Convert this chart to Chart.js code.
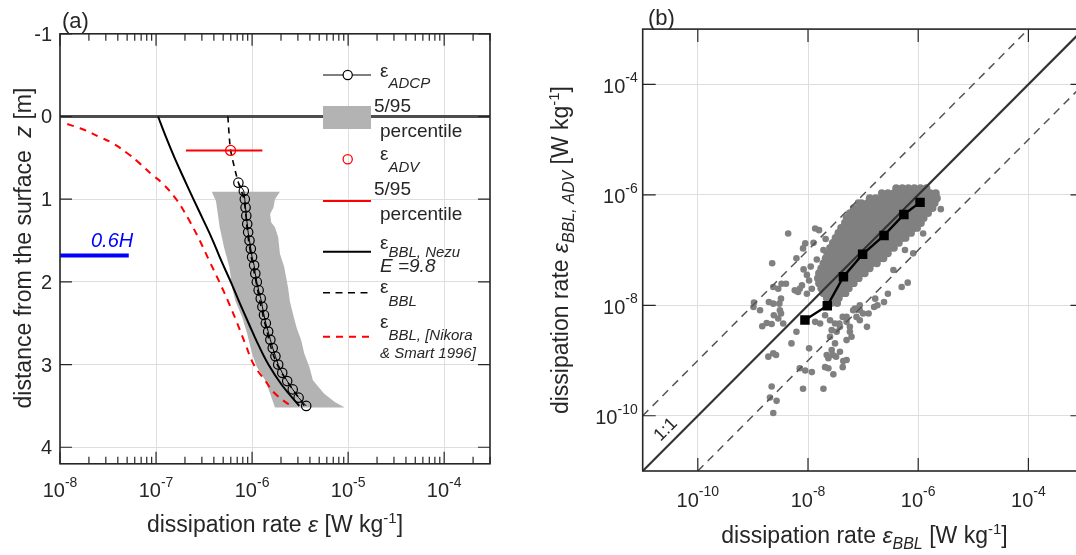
<!DOCTYPE html>
<html><head><meta charset="utf-8">
<script src="https://cdn.jsdelivr.net/npm/chart.js@4.4.0/dist/chart.umd.min.js"></script>
<style>
html,body{margin:0;padding:0;background:#fff;overflow:hidden;width:1076px;height:555px}
#ca{position:absolute;left:0;top:0}
#cb{position:absolute;left:540px;top:0}
</style></head><body>
<canvas id="ca" width="540" height="555"></canvas>
<canvas id="cb" width="560" height="555"></canvas>
<script>
// ---------------- Panel (a) data ----------------
const xTickExpA = [-8, -7, -6, -5, -4];
const yTicksA = [-1, 0, 1, 2, 3, 4];
const xMinA = 1e-8, xMaxA = 3e-4, zMinA = -1, zMaxA = 4.2;

const adcpZ = [0.8,0.9,1.0,1.1,1.2,1.3,1.4,1.5,1.6,1.7,1.8,1.9,2.0,2.1,2.2,2.3,2.4,2.5,2.6,2.7,2.8,2.9,3.0,3.1,3.2,3.3,3.4,3.5];
const adcpEps = [7.2e-7,8.2e-7,8.4e-7,8.55e-7,8.7e-7,8.9e-7,9.1e-7,9.4e-7,9.7e-7,1.0e-6,1.05e-6,1.08e-6,1.12e-6,1.17e-6,1.23e-6,1.28e-6,1.33e-6,1.39e-6,1.47e-6,1.55e-6,1.64e-6,1.75e-6,1.87e-6,2.06e-6,2.32e-6,2.65e-6,3.05e-6,3.66e-6];

const bandLeftZ = [0.91,1.02,1.18,1.34,1.58,1.82,2.07,2.23,2.43,2.63,2.87,3.03,3.19,3.35,3.52];
const bandLeftEps = [3.8e-7,4.2e-7,4.4e-7,4.6e-7,5.1e-7,5.8e-7,6.2e-7,6.7e-7,7.9e-7,8.9e-7,1.0e-6,1.12e-6,1.37e-6,1.54e-6,1.73e-6];
const bandRightZ = [3.52,3.45,3.35,3.19,3.03,2.87,2.71,2.55,2.39,2.23,2.07,1.82,1.66,1.46,1.34,1.28,1.18,1.10,1.0,0.91];
const bandRightEps = [9.2e-6,7.2e-6,5.6e-6,4.3e-6,3.95e-6,3.5e-6,3.25e-6,2.9e-6,2.67e-6,2.47e-6,2.37e-6,2.16e-6,1.95e-6,1.87e-6,1.73e-6,1.58e-6,1.54e-6,1.67e-6,1.73e-6,1.95e-6];

const advZ = [0.41];
const advEps = [5.97e-7];
const advLo = [2.05e-7];
const advHi = [1.28e-6];

const nezuZ = [0,0.25,0.5,0.75,1.0,1.25,1.5,1.75,2.0,2.25,2.5,2.75,3.0,3.25,3.5];
const nezuEps = [1.05e-7,1.27e-7,1.56e-7,1.95e-7,2.45e-7,3.1e-7,3.9e-7,4.8e-7,6.0e-7,7.4e-7,9.2e-7,1.15e-6,1.48e-6,2.05e-6,3.1e-6];

const bblZ = [0,0.2,0.4,0.6,0.8,1.0,1.5,2.0,2.5,3.0,3.5];
const bblEps = [5.6e-7,5.75e-7,5.97e-7,6.5e-7,7.2e-7,8.2e-7,9.2e-7,1.1e-6,1.36e-6,1.83e-6,3.5e-6];

const nikoraZ = [0.09,0.13,0.17,0.25,0.32,0.45,0.57,0.7,0.81,1.0,1.25,1.5,1.75,2.0,2.25,2.5,2.75,3.0,3.2,3.35,3.52];
const nikoraEps = [1.19e-8,1.5e-8,1.87e-8,2.6e-8,3.5e-8,5.1e-8,6.8e-8,9.0e-8,1.17e-7,1.62e-7,2.2e-7,2.85e-7,3.6e-7,4.56e-7,5.7e-7,7.0e-7,8.5e-7,1.04e-6,1.38e-6,1.73e-6,2.67e-6];

const surfaceZ = 0;
const depthMarkZ = 1.68;           // 0.6H above the bed
const depthMarkEps = [1e-8, 5.2e-8];

// ---------------- Panel (b) data ----------------
const tickExpB = [-10, -8, -6, -4];
const minB = 1e-11, maxB = 1e-3;
const binBBL = [8.8e-9,2.24e-8,4.4e-8,9.8e-8,2.4e-7,5.5e-7,1.08e-6];
const binADV = [5.4e-9,9.8e-9,3.3e-8,8.4e-8,1.84e-7,4.4e-7,7.3e-7];

// dense cloud, log10 values read row by row
const cloudADVrows = [-5.88,-5.97,-6.06,-6.15,-6.24,-6.33,-6.42,-6.51,-6.60,-6.69,-6.78,-6.87,-6.96,-7.06,-7.15,-7.24,-7.33,-7.42,-7.51,-7.60,-7.69,-7.78,-7.87,-7.96];
const cloudBBLrows = [
 [-6.40,-6.29,-6.18,-6.07,-5.96,-5.85],
 [-6.66,-6.55,-6.44,-6.33,-6.22,-6.11,-6.00,-5.89,-5.78,-5.68],
 [-6.88,-6.77,-6.66,-6.55,-6.44,-6.33,-6.22,-6.11,-6.00,-5.89,-5.78,-5.66],
 [-7.03,-6.92,-6.81,-6.70,-6.59,-6.48,-6.37,-6.26,-6.15,-6.04,-5.93,-5.82,-5.70],
 [-7.17,-7.06,-6.95,-6.84,-6.73,-6.62,-6.51,-6.40,-6.29,-6.18,-6.07,-5.96,-5.85,-5.74],
 [-7.24,-7.13,-7.02,-6.91,-6.80,-6.69,-6.58,-6.47,-6.36,-6.25,-6.14,-6.03,-5.92,-5.82],
 [-7.30,-7.19,-7.08,-6.97,-6.86,-6.75,-6.64,-6.53,-6.42,-6.31,-6.20,-6.09,-5.98,-5.90],
 [-7.33,-7.22,-7.11,-7.00,-6.89,-6.78,-6.67,-6.56,-6.45,-6.34,-6.23,-6.12,-6.01,-5.95],
 [-7.40,-7.29,-7.18,-7.07,-6.96,-6.85,-6.74,-6.63,-6.52,-6.41,-6.30,-6.19,-6.08,-6.02],
 [-7.45,-7.34,-7.23,-7.12,-7.01,-6.90,-6.79,-6.68,-6.57,-6.46,-6.35,-6.24,-6.13],
 [-7.50,-7.39,-7.28,-7.17,-7.06,-6.95,-6.84,-6.73,-6.62,-6.51,-6.40,-6.29,-6.23],
 [-7.55,-7.44,-7.33,-7.22,-7.11,-7.00,-6.89,-6.78,-6.67,-6.56,-6.45,-6.35],
 [-7.60,-7.49,-7.38,-7.27,-7.16,-7.05,-6.94,-6.83,-6.72,-6.61,-6.50,-6.44],
 [-7.65,-7.54,-7.43,-7.32,-7.21,-7.10,-6.99,-6.88,-6.77,-6.66,-6.55],
 [-7.68,-7.57,-7.46,-7.35,-7.24,-7.13,-7.02,-6.91,-6.80,-6.69,-6.63],
 [-7.72,-7.61,-7.50,-7.39,-7.28,-7.17,-7.06,-6.95,-6.84,-6.75],
 [-7.76,-7.65,-7.54,-7.43,-7.32,-7.21,-7.10,-6.99,-6.88],
 [-7.80,-7.69,-7.58,-7.47,-7.36,-7.25,-7.14,-7.03,-6.97],
 [-7.82,-7.71,-7.60,-7.49,-7.38,-7.27,-7.16,-7.08],
 [-7.80,-7.69,-7.58,-7.47,-7.36,-7.25,-7.17],
 [-7.76,-7.65,-7.54,-7.43,-7.32,-7.26],
 [-7.72,-7.61,-7.50,-7.39,-7.32],
 [-7.66,-7.55,-7.44],
 [-7.58,-7.47]
];
// scattered points, log10 values
const outBBL = [-8.36,-8.65,-7.87,-7.80,-8.05,-8.09,-7.90,-8.21,-7.84,-7.09,-6.78,-8.63,-8.54,-8.48,-8.40,-8.24,-8.15,-8.11,-8.18,-8.02,-7.93,-8.99,-8.87,-8.98,-8.71,-8.63,-8.51,-8.62,-8.49,-8.52,-8.49,-8.75,-8.66,-8.83,-8.54,-8.45,
 -5.59,-5.91,-6.24,-6.09,-6.30,-6.45,-6.19,-6.55,-6.62,-6.74,-6.78,-6.80,-6.90,-6.93,-7.06,-7.12,-7.15,-7.00,-7.06,-7.18,-7.30,-7.42,-7.30,-7.24,-7.06,-7.21,-7.24,-7.37,-7.43,-7.57,-7.48,-7.60,-7.51,-7.87,-7.78,-7.69,
 -7.93,-7.36,-7.30,-7.51,-7.60,-7.66,-7.63,-7.55,-7.49,-7.69,-7.63,-7.54,-7.37,-7.72,-8.09,-7.98,-8.15,-8.05,-8.30,-8.21,-8.63,-8.72,-8.58,-8.66,-8.69,-8.57,-8.63,-7.57,-7.42,-7.30,
 -7.95,-8.02,-7.98,-8.08,-7.72,-7.68];
const outADV = [-6.70,-7.24,-6.61,-6.64,-6.88,-6.97,-6.87,-7.15,-7.17,-6.14,-6.07,-7.67,-7.70,-7.61,-7.61,-7.73,-7.70,-7.64,-7.76,-7.79,-7.70,-8.03,-8.09,-7.95,-7.94,-7.97,-8.09,-8.18,-8.15,-7.97,-7.88,-8.32,-8.34,-8.38,-8.24,-8.33,
 -6.26,-6.70,-7.00,-7.06,-7.67,-7.36,-7.59,-7.79,-7.94,-8.00,-7.88,-8.03,-8.15,-8.39,-8.09,-8.21,-8.06,-8.15,-8.00,-8.09,-8.21,-8.39,-8.30,-8.39,-8.27,-8.57,-8.48,-8.21,-8.33,-8.45,-8.48,-8.27,-8.33,-8.30,-8.33,-8.18,
 -9.21,-9.01,-8.63,-8.69,-8.57,-8.90,-8.96,-8.90,-8.93,-9.12,-9.14,-9.25,-9.12,-9.51,-9.51,-8.78,-9.14,-9.18,-8.69,-8.48,-8.87,-8.93,-8.90,-9.47,-9.67,-9.73,-9.95,-8.81,-8.84,-8.99,
 -7.30,-7.45,-7.55,-7.35,-7.00,-6.80];

// ---------------- helpers ----------------
const TXT = '#262626', AXIS = '#262626', GRID = '#dedede';
const F = (s, it) => (it ? 'italic ' : '') + s + 'px "Liberation Sans", Arial, Helvetica, sans-serif';
const pts = (xs, ys) => xs.map((x, i) => ({x: x, y: ys[i]}));

function rich(ctx, x, y, parts, align) {
  let w = 0;
  for (const p of parts) { ctx.font = p[1]; p.w = ctx.measureText(p[0]).width; w += p.w; }
  let cx = align === 'center' ? x - w / 2 : (align === 'right' ? x - w : x);
  for (const p of parts) { ctx.font = p[1]; ctx.fillText(p[0], cx, y + (p[2] || 0)); cx += p.w; }
}
function pow10(ctx, x, y, e, align, supDy) {
  rich(ctx, x, y, [['10', F(20)], [String(e), F(14), supDy]], align);
}

// ---------------- Panel (a) ----------------
const overlayA = {
  id: 'overlayA',
  afterDraw(chart) {
    const ctx = chart.ctx, A = chart.chartArea, X = chart.scales.x, Y = chart.scales.y;
    ctx.save();
    ctx.setLineDash([]);
    ctx.strokeStyle = AXIS; ctx.lineWidth = 1.2;
    ctx.beginPath();
    for (let e = -8; e <= -4; e++) {
      for (let k = 1; k <= 9; k++) {
        const v = k * Math.pow(10, e);
        if (v > xMaxA * 1.0001) continue;
        const p = X.getPixelForValue(v), L = k === 1 ? 12 : 7;
        ctx.moveTo(p, A.bottom); ctx.lineTo(p, A.bottom - L);
        ctx.moveTo(p, A.top); ctx.lineTo(p, A.top + L);
      }
    }
    for (const t of yTicksA) {
      const p = Y.getPixelForValue(t);
      ctx.moveTo(A.left, p); ctx.lineTo(A.left + 12, p);
      ctx.moveTo(A.right, p); ctx.lineTo(A.right - 12, p);
    }
    ctx.stroke();
    ctx.lineWidth = 1.6;
    ctx.strokeRect(A.left, A.top, A.right - A.left, A.bottom - A.top);

    ctx.fillStyle = TXT; ctx.textBaseline = 'alphabetic'; ctx.textAlign = 'left';
    for (const e of xTickExpA) pow10(ctx, X.getPixelForValue(Math.pow(10, e)), 497, e, 'center', -10);
    for (const t of yTicksA) rich(ctx, 52, Y.getPixelForValue(t) + 7, [[String(t), F(20)]], 'right');

    // axis titles
    rich(ctx, (A.left + A.right) / 2, 532, [['dissipation rate ', F(23)], ['\u03b5', F(23, true)], [' [W kg', F(23)], ['-1', F(15), -9], [']', F(23)]], 'center');
    ctx.save(); ctx.translate(31, 248); ctx.rotate(-Math.PI / 2);
    rich(ctx, 0, 0, [['distance from the surface  ', F(23)], ['z', F(23, true)], [' [m]', F(23)]], 'center');
    ctx.restore();
    rich(ctx, 62, 27.5, [['(a)', F(22)]], 'left');

    // 0.6H label
    ctx.fillStyle = '#0000ff';
    rich(ctx, 91, 247, [['0.6', F(20, true)], ['H', F(20, true)]], 'left');

    // legend
    const lx0 = 323, lx1 = 371, lxc = 347.7;
    ctx.lineWidth = 1; ctx.strokeStyle = '#000';
    ctx.beginPath(); ctx.moveTo(lx0, 75); ctx.lineTo(lx1, 75); ctx.stroke();
    ctx.beginPath(); ctx.arc(lxc, 75, 4.6, 0, 2 * Math.PI); ctx.fillStyle = '#fff'; ctx.fill(); ctx.lineWidth = 1.2; ctx.stroke();
    ctx.fillStyle = '#b3b3b3'; ctx.fillRect(lx0, 106, lx1 - lx0, 23);
    ctx.strokeStyle = '#ff0000'; ctx.lineWidth = 1.3;
    ctx.beginPath(); ctx.arc(lxc, 159.3, 4.6, 0, 2 * Math.PI); ctx.stroke();
    ctx.lineWidth = 2;
    ctx.beginPath(); ctx.moveTo(lx0, 201); ctx.lineTo(lx1, 201); ctx.stroke();
    ctx.strokeStyle = '#000';
    ctx.beginPath(); ctx.moveTo(lx0, 251.7); ctx.lineTo(lx1, 251.7); ctx.stroke();
    ctx.lineWidth = 1.6; ctx.setLineDash([7, 5.5]);
    ctx.beginPath(); ctx.moveTo(lx0, 292.7); ctx.lineTo(lx1, 292.7); ctx.stroke();
    ctx.strokeStyle = '#ff0000'; ctx.lineWidth = 2; ctx.setLineDash([7, 6]);
    ctx.beginPath(); ctx.moveTo(lx0, 336.7); ctx.lineTo(lx1, 336.7); ctx.stroke();
    ctx.setLineDash([]);

    ctx.fillStyle = TXT;
    const tx = 380;
    rich(ctx, tx, 77, [['\u03b5', F(19)], ['ADCP', F(15, true), 11]], 'left');
    rich(ctx, 374, 111.7, [['5/95', F(19)]], 'left');
    rich(ctx, tx, 136.5, [['percentile', F(19)]], 'left');
    rich(ctx, tx, 160, [['\u03b5', F(19)], ['ADV', F(15, true), 11.5]], 'left');
    rich(ctx, 374, 195, [['5/95', F(19)]], 'left');
    rich(ctx, tx, 220, [['percentile', F(19)]], 'left');
    rich(ctx, tx, 248.5, [['\u03b5', F(19)], ['BBL, Nezu', F(15, true), 8]], 'left');
    rich(ctx, tx, 271.7, [['E =9.8', F(19, true)]], 'left');
    rich(ctx, tx, 293.3, [['\u03b5', F(19)], ['BBL', F(15, true), 12.5]], 'left');
    rich(ctx, tx, 328.3, [['\u03b5', F(19)], ['BBL, [Nikora', F(15, true), 11.5]], 'left');
    rich(ctx, tx, 358, [['& Smart 1996]', F(15, true)]], 'left');
    ctx.restore();
  }
};

const bandPoly = pts(bandLeftEps, bandLeftZ).concat(pts(bandRightEps, bandRightZ));

new Chart(document.getElementById('ca'), {
  type: 'scatter',
  data: { datasets: [
    { label: 'ADV', data: pts(advEps, advZ), showLine: false, pointRadius: 5, pointBorderColor: '#ff0000', pointBackgroundColor: 'rgba(0,0,0,0)', pointBorderWidth: 1.3, order: 0 },
    { label: 'ADV 5/95', data: [{x: advLo[0], y: advZ[0]}, {x: advHi[0], y: advZ[0]}], showLine: true, borderColor: '#ff0000', borderWidth: 2, pointRadius: 0, order: 1 },
    { label: 'ADCP', data: pts(adcpEps, adcpZ), showLine: true, borderColor: '#000', borderWidth: 1, pointRadius: 4.7, pointBorderColor: '#000', pointBackgroundColor: 'rgba(0,0,0,0)', pointBorderWidth: 1.2, order: 2 },
    { label: 'BBL', data: pts(bblEps, bblZ), showLine: true, tension: 0.35, borderColor: '#000', borderWidth: 1.6, borderDash: [6, 5], pointRadius: 0, order: 3 },
    { label: 'Nezu', data: pts(nezuEps, nezuZ), showLine: true, tension: 0.4, borderColor: '#000', borderWidth: 2, pointRadius: 0, order: 4 },
    { label: 'Nikora', data: pts(nikoraEps, nikoraZ), showLine: true, tension: 0.4, borderColor: '#ff0000', borderWidth: 2, borderDash: [7, 6], pointRadius: 0, order: 5 },
    { label: 'surface', data: [{x: xMinA, y: surfaceZ}, {x: xMaxA, y: surfaceZ}], showLine: true, borderColor: '#4d4d4d', borderWidth: 3, pointRadius: 0, order: 6 },
    { label: '0.6H', data: depthMarkEps.map(x => ({x: x, y: depthMarkZ})), showLine: true, borderColor: '#0000ff', borderWidth: 4, pointRadius: 0, order: 7 },
    { label: 'band', data: bandPoly, showLine: true, fill: 'shape', backgroundColor: '#b3b3b3', borderColor: 'rgba(0,0,0,0)', borderWidth: 0, pointRadius: 0, order: 8 }
  ]},
  options: {
    responsive: false, animation: false, events: [], devicePixelRatio: 1,
    layout: { padding: { left: 0, right: 50, top: 33.8, bottom: 0 } },
    plugins: { legend: { display: false }, tooltip: { enabled: false } },
    scales: {
      x: { type: 'logarithmic', min: xMinA, max: xMaxA,
           afterFit(s) { s.height = 91.2; },
           afterBuildTicks(s) { s.ticks = xTickExpA.map(e => ({ value: Math.pow(10, e) })); },
           ticks: { display: false }, grid: { color: GRID, lineWidth: 1, drawTicks: false }, border: { display: false } },
      y: { type: 'linear', reverse: true, min: zMinA, max: zMaxA,
           afterFit(s) { s.width = 60; },
           afterBuildTicks(s) { s.ticks = yTicksA.map(v => ({ value: v })); },
           ticks: { display: false }, grid: { color: GRID, lineWidth: 1, drawTicks: false }, border: { display: false } }
    }
  },
  plugins: [overlayA]
});

// ---------------- Panel (b) ----------------
const cloudPts = [];
cloudADVrows.forEach((yy, i) => cloudBBLrows[i].forEach(xx => cloudPts.push({ x: Math.pow(10, xx), y: Math.pow(10, yy) })));
const outPts = outBBL.map((xx, i) => ({ x: Math.pow(10, xx), y: Math.pow(10, outADV[i]) }));

const overlayB = {
  id: 'overlayB',
  afterDraw(chart) {
    const ctx = chart.ctx, A = chart.chartArea, X = chart.scales.x, Y = chart.scales.y;
    ctx.save();
    ctx.setLineDash([]);
    ctx.strokeStyle = AXIS; ctx.lineWidth = 1.2;
    ctx.beginPath();
    for (const e of tickExpB) {
      const px = X.getPixelForValue(Math.pow(10, e)), py = Y.getPixelForValue(Math.pow(10, e));
      ctx.moveTo(px, A.bottom); ctx.lineTo(px, A.bottom - 13);
      ctx.moveTo(px, A.top); ctx.lineTo(px, A.top + 13);
      ctx.moveTo(A.left, py); ctx.lineTo(A.left + 13, py);
      ctx.moveTo(A.right, py); ctx.lineTo(A.right - 13, py);
    }
    ctx.stroke();
    ctx.lineWidth = 1.6;
    ctx.strokeRect(A.left, A.top, A.right - A.left, A.bottom - A.top);

    ctx.fillStyle = TXT; ctx.textBaseline = 'alphabetic'; ctx.textAlign = 'left';
    for (const e of tickExpB) {
      pow10(ctx, X.getPixelForValue(Math.pow(10, e)), 506.5, e, 'center', -10.5);
      pow10(ctx, A.left - 5, Y.getPixelForValue(Math.pow(10, e)) + 8.5, e, 'right', -10.5);
    }
    rich(ctx, 324.5, 543, [['dissipation rate ', F(23)], ['\u03b5', F(23, true)], ['BBL', F(16, true), 6], [' [W kg', F(23)], ['-1', F(15), -9], [']', F(23)]], 'center');
    ctx.save(); ctx.translate(28, (A.top + A.bottom) / 2); ctx.rotate(-Math.PI / 2);
    rich(ctx, 0, 0, [['dissipation rate ', F(23)], ['\u03b5', F(23, true)], ['BBL, ADV', F(16, true), 6], [' [W kg', F(23)], ['-1', F(15), -9], [']', F(23)]], 'center');
    ctx.restore();
    rich(ctx, 108, 24.5, [['(b)', F(22)]], 'left');

    ctx.save(); ctx.translate(125, 429); ctx.rotate(-Math.PI / 4);
    rich(ctx, 0, 6, [['1:1', F(18)]], 'center');
    ctx.restore();
    ctx.restore();
  }
};

new Chart(document.getElementById('cb'), {
  type: 'scatter',
  data: { datasets: [
    { label: 'binned', data: pts(binBBL, binADV), showLine: true, borderColor: '#000', borderWidth: 2.4, pointStyle: 'rect', pointRadius: 5, pointBackgroundColor: '#000', pointBorderColor: '#000', order: 0 },
    { label: '1:1', data: [{x: minB, y: minB}, {x: maxB, y: maxB}], showLine: true, borderColor: '#333333', borderWidth: 2.2, pointRadius: 0, order: 1 },
    { label: 'x10', data: [{x: minB, y: minB * 10}, {x: maxB / 10, y: maxB}], showLine: true, borderColor: '#555555', borderWidth: 1.5, borderDash: [8, 6], pointRadius: 0, order: 2 },
    { label: 'x0.1', data: [{x: minB * 10, y: minB}, {x: maxB, y: maxB / 10}], showLine: true, borderColor: '#555555', borderWidth: 1.5, borderDash: [8, 6], pointRadius: 0, order: 3 },
    { label: 'samples', data: outPts, showLine: false, pointRadius: 3.3, pointBackgroundColor: '#808080', pointBorderWidth: 0, pointBorderColor: '#808080', order: 4 },
    { label: 'samples (dense)', data: cloudPts, showLine: false, pointRadius: 3.9, pointBackgroundColor: '#808080', pointBorderWidth: 0, pointBorderColor: '#808080', order: 5 }
  ]},
  options: {
    responsive: false, animation: false, events: [], devicePixelRatio: 1,
    layout: { padding: { left: 0, right: 16.5, top: 29.1, bottom: 0 } },
    plugins: { legend: { display: false }, tooltip: { enabled: false } },
    scales: {
      x: { type: 'logarithmic', min: minB, max: maxB,
           afterFit(s) { s.height = 84; },
           afterBuildTicks(s) { s.ticks = tickExpB.map(e => ({ value: Math.pow(10, e) })); },
           ticks: { display: false }, grid: { color: GRID, lineWidth: 1, drawTicks: false }, border: { display: false } },
      y: { type: 'logarithmic', min: minB, max: maxB,
           afterFit(s) { s.width = 102.7; },
           afterBuildTicks(s) { s.ticks = tickExpB.map(e => ({ value: Math.pow(10, e) })); },
           ticks: { display: false }, grid: { color: GRID, lineWidth: 1, drawTicks: false }, border: { display: false } }
    }
  },
  plugins: [overlayB]
});
</script>
</body></html>
